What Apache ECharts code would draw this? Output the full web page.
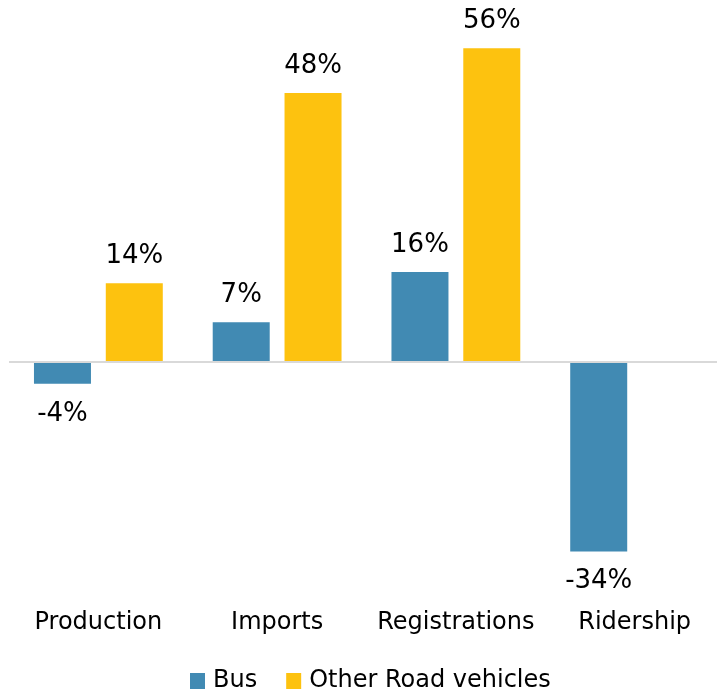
<!DOCTYPE html>
<html><head><meta charset="utf-8">
<script src="https://cdn.jsdelivr.net/npm/echarts@6/dist/echarts.min.js"></script>
<style>html,body{margin:0;padding:0;background:#fff}#c{width:717px;height:694px}</style>
</head><body><div id="c"></div>
<script>
const categories = ['Production', 'Imports', 'Registrations', 'Ridership'];
const busValues = [-4, 7, 16, -34];
const otherValues = [14, 48, 56, null];
const seriesNames = ['Bus', 'Other Road vehicles'];
const colors = ['#418ab3', '#fdc20f'];

const labelFont = 'DejaVu Sans';

function toData(arr) {
  return arr.map(v => v === null ? '-' : {
    value: v,
    label: v < 0 ? { position: 'bottom', distance: 17 } : { position: 'top', distance: 14 }
  });
}

const chart = echarts.init(document.getElementById('c'));
chart.setOption({
  animation: false,
  color: colors,
  grid: { left: 9, top: 26, width: 715, height: 559, outerBoundsMode: 'none', containLabel: false },
  legend: {
    data: seriesNames,
    left: 185, top: 664,
    icon: 'rect', itemWidth: 15, itemHeight: 16, itemGap: 29,
    textStyle: { fontFamily: labelFont, fontSize: 24, color: '#000', padding: [0, 0, 0, 3] }
  },
  xAxis: {
    type: 'category', data: categories,
    axisLine: { show: false, onZero: false }, axisTick: { show: false },
    axisLabel: { interval: 0, fontFamily: labelFont, fontSize: 24, color: '#000', margin: 26 }
  },
  yAxis: {
    type: 'value', min: -40, max: 60,
    show: false, splitLine: { show: false }
  },
  series: [
    {
      name: seriesNames[0], type: 'bar', data: toData(busValues),
      barWidth: 57, barGap: '26%',
      label: { show: true, formatter: p => p.value + '%', fontFamily: labelFont, fontSize: 26, color: '#000' },
      markLine: {
        silent: true, symbol: 'none', label: { show: false },
        lineStyle: { color: '#d9d9d9', width: 2, type: 'solid' },
        data: [{ yAxis: 0 }]
      }
    },
    {
      name: seriesNames[1], type: 'bar', data: toData(otherValues),
      barWidth: 57, barGap: '26%',
      label: { show: true, formatter: p => p.value + '%', fontFamily: labelFont, fontSize: 26, color: '#000' }
    }
  ]
});
</script></body></html>
